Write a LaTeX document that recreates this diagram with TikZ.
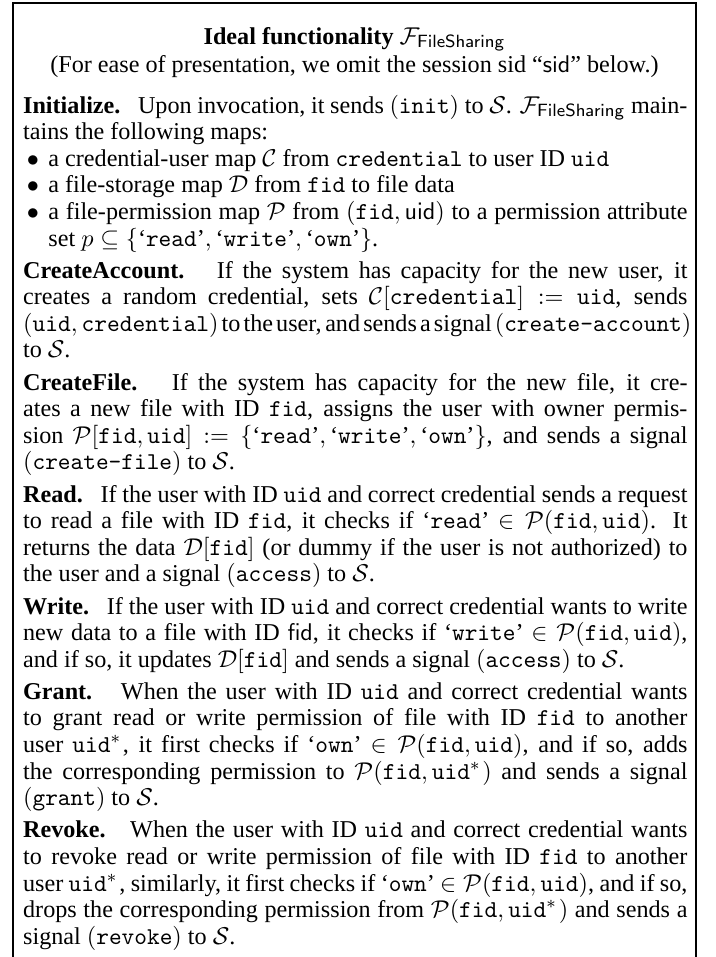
\documentclass[tikz,border=0pt]{standalone}
\usepackage{amsmath}
\usepackage[no-math]{fontspec}
\setmainfont{Liberation Serif}

% one justified line of the body, and the last (ragged) line of a paragraph
\newcommand{\jline}[1]{\hbox to \hsize{\spaceskip=0.25em plus 0.2em minus 0.12em #1}}
\newcommand{\rline}[1]{\hbox{#1}}
% space between two paragraphs
\newcommand{\pargap}{\vskip 2.5pt}
% bullet label of a list entry, and the hanging indent of its continuation
\newcommand{\bul}{\hbox to 11.4pt{\hss$\bullet$\hskip 4.2pt}}
\newcommand{\hang}{\hskip 11.4pt}
% small helpers for the formulas
\newcommand{\qt}[1]{\text{‘\texttt{#1}’}}
\newcommand{\Perm}{\mathcal{P}}
\newcommand{\sig}[1]{$(\texttt{#1})$}
\newcommand{\head}[1]{\textbf{#1}\hspace{0.4em plus 0.2em}}
\newcommand{\uidstar}{\mathtt{uid}^{*}\kern0.8pt}

\begin{document}
\begin{tikzpicture}[x=0.4511pt, y=-0.4511pt,
  txt/.style={inner sep=0pt, font=\fontsize{10.9}{12}\selectfont}]
\useasboundingbox (0,0) rectangle (716,957);

% frame, open at the bottom
\draw[line width=0.5pt] (13,957) -- (13,3) -- (696,3) -- (696,957);

\node[txt, anchor=base] (title) at (354.5,44)
  {\textbf{Ideal functionality} $\mathcal{F}_{\mathsf{FileSharing}}$};
\node[txt, anchor=base] (subtitle) at (354.5,72)
  {(For ease of presentation, we omit the session sid “\textsf{sid}” below.)};

\node[txt, anchor=base west] (body) at (22.7,113) {\vtop{\hsize=299.7pt
\jline{\head{Initialize.} Upon invocation, it sends $(\texttt{init})$ to $\mathcal{S}$. $\mathcal{F}_{\mathsf{FileSharing}}$ main-}
\rline{tains the following maps:}
\rline{\bul a credential-user map $\mathcal{C}$ from \texttt{credential} to user ID \texttt{uid}}
\rline{\bul a file-storage map $\mathcal{D}$ from \texttt{fid} to file data}
\jline{\bul a file-permission map $\Perm$ from $(\mathtt{fid}, \mathsf{uid})$ to a permission attribute}
\rline{\hang set $p \subseteq \{\qt{read}, \qt{write}, \qt{own}\}$.}
\pargap
\jline{\head{CreateAccount.} If the system has capacity for the new user, it}
\jline{creates a random credential, sets $\mathcal{C}[\mathtt{credential}] := \mathtt{uid}$, sends}
\jline{$(\mathtt{uid}, \mathtt{credential})$ to the user, and sends a signal \sig{create-account}}
\rline{to $\mathcal{S}$.}
\pargap
\jline{\head{CreateFile.} If the system has capacity for the new file, it cre-}
\jline{ates a new file with ID \texttt{fid}, assigns the user with owner permis-}
\jline{sion $\Perm[\mathtt{fid}, \mathtt{uid}] := \{\qt{read}, \qt{write}, \qt{own}\}$, and sends a signal}
\rline{\sig{create-file} to $\mathcal{S}$.}
\pargap
\jline{\head{Read.} If the user with ID \texttt{uid} and correct credential sends a request}
\jline{to read a file with ID \texttt{fid}, it checks if ‘\texttt{read}’ $\in \Perm(\mathtt{fid}, \mathtt{uid})$. It}
\jline{returns the data $\mathcal{D}[\mathtt{fid}]$ (or dummy if the user is not authorized) to}
\rline{the user and a signal \sig{access} to $\mathcal{S}$.}
\pargap
\jline{\head{Write.} If the user with ID \texttt{uid} and correct credential wants to write}
\jline{new data to a file with ID \textsf{fid}, it checks if ‘\texttt{write}’ $\in \Perm(\mathtt{fid}, \mathtt{uid})$,}
\rline{and if so, it updates $\mathcal{D}[\mathtt{fid}]$ and sends a signal \sig{access} to $\mathcal{S}$.}
\pargap
\jline{\head{Grant.} When the user with ID \texttt{uid} and correct credential wants}
\jline{to grant read or write permission of file with ID \texttt{fid} to another}
\jline{user $\uidstar$, it first checks if ‘\texttt{own}’ $\in \Perm(\mathtt{fid}, \mathtt{uid})$, and if so, adds}
\jline{the corresponding permission to $\Perm(\mathtt{fid}, \uidstar)$ and sends a signal}
\rline{\sig{grant} to $\mathcal{S}$.}
\pargap
\jline{\head{Revoke.} When the user with ID \texttt{uid} and correct credential wants}
\jline{to revoke read or write permission of file with ID \texttt{fid} to another}
\jline{user $\uidstar$, similarly, it first checks if ‘\texttt{own}’ $\in \Perm(\mathtt{fid}, \mathtt{uid})$, and if so,}
\jline{drops the corresponding permission from $\Perm(\mathtt{fid}, \uidstar)$ and sends a}
\rline{signal \sig{revoke} to $\mathcal{S}$.}
}};
\end{tikzpicture}
\end{document}
